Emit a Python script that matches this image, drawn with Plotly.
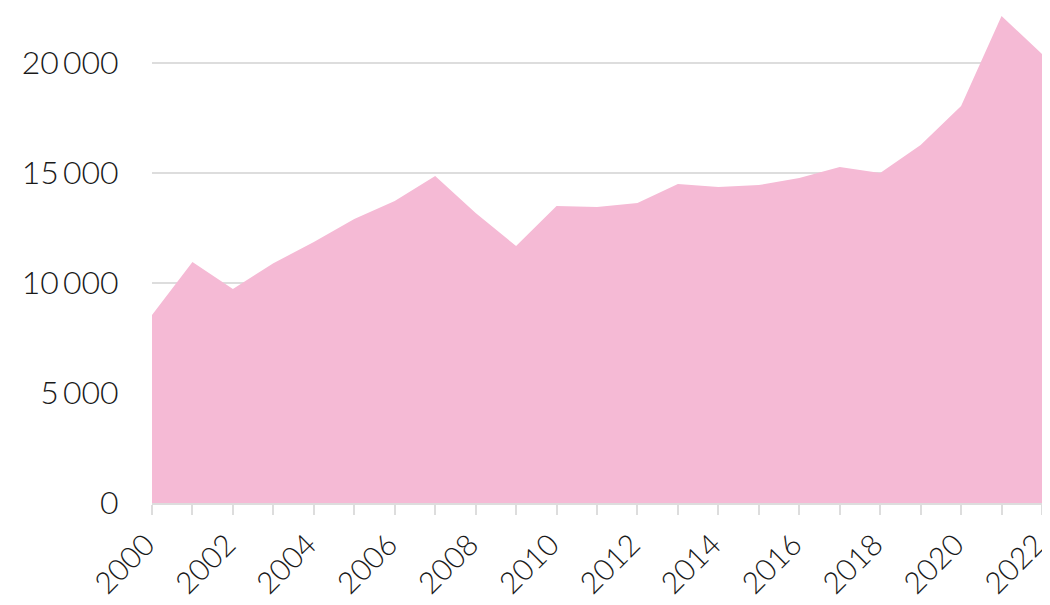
import plotly.graph_objects as go

years = list(range(2000, 2023))
values = [8550, 10950, 9730, 10900, 11860, 12910, 13730, 14860, 13180, 11680,
          13500, 13460, 13640, 14500, 14360, 14450, 14770, 15270, 15000, 16270,
          18050, 22140, 20410]
y_ticks = [0, 5000, 10000, 15000, 20000]
x_tick_labels = [str(y) for y in range(2000, 2023, 2)]

fig = go.Figure()
fig.add_trace(go.Scatter(
    x=years, y=values, mode="lines", fill="tozeroy",
    fillcolor="#f5bad5", line=dict(width=0, color="#f5bad5"),
    hoverinfo="x+y",
))

fig.update_layout(
    width=1050, height=605,
    margin=dict(l=144, r=16, t=0, b=110),
    paper_bgcolor="white", plot_bgcolor="white",
    separators=".\u2009",
    showlegend=False,
    font=dict(family="Lato", size=32, color="#1a1a1a", weight=300),
)
fig.update_xaxes(
    range=[2000, 2022], tickmode="array",
    tickvals=list(range(2000, 2023, 2)), ticktext=x_tick_labels,
    tickangle=-45, showgrid=False, automargin=False,
    ticklabeloverflow="allow", ticklabelshift=-6,
    tickfont=dict(size=30),
    showline=True, linecolor="#dddddd", linewidth=2,
    ticks="outside", ticklen=10, tickwidth=2, tickcolor="#dddddd",
    minor=dict(dtick=1, ticks="outside", ticklen=10, tickwidth=2, tickcolor="#dddddd"),
    zeroline=False,
)
fig.update_yaxes(
    range=[0, 22500], tickmode="array", tickvals=y_ticks,
    tickformat=",d", automargin=False,
    showgrid=True, gridcolor="#dddddd", gridwidth=2,
    zeroline=False, showline=False,
    ticks="outside", ticklen=26, tickcolor="rgba(0,0,0,0)",
)

fig.write_html("out.html")
